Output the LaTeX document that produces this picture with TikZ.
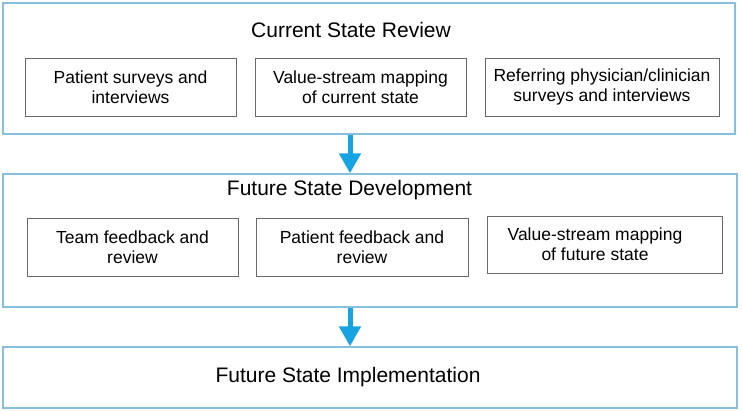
\documentclass[tikz,border=0pt]{standalone}
\usepackage{fontspec}
\setmainfont{Liberation Sans}
\usetikzlibrary{arrows.meta}
\definecolor{framec}{RGB}{135,192,222}
\definecolor{arrowc}{RGB}{22,163,226}
\definecolor{boxc}{RGB}{105,105,105}
\begin{document}
\begin{tikzpicture}[x=1pt,y=-1pt,
  stage/.style={draw=framec,line width=1.4pt,minimum width=#1,inner sep=0pt},
  title/.style={font=\fontsize{21}{24}\selectfont,inner sep=0pt},
  item/.style={draw=boxc,line width=0.9pt,minimum height=58pt,minimum width=#1,inner sep=0pt,align=center,font=\fontsize{17.5}{20}\selectfont},
  flow/.style={draw=arrowc,line width=5pt,-{Triangle[width=21pt,length=20pt]},shorten >=0pt}]
\useasboundingbox (0,0) rectangle (742,411);
% stage boxes
\node[stage=732pt,minimum height=131pt] (crs) at (369,68.5) {};
\node[stage=734pt,minimum height=133pt] (fsd) at (370,240.5) {};
\node[stage=734pt,minimum height=61pt] (fsi) at (370,377.5) {};
% titles
\node[title] (t1) at (351,30) {Current State Review};
\node[title] (t2) at (349.5,190) {Future State Development};
\node[title] (t3) at (348,377) {Future State Implementation};
% row 1
\node[item=211pt] (a) at (130.5,87) {Patient surveys and\\interviews};
\node[item=211pt] (b) at (360.5,87) {Value-stream mapping\\of current state};
\node[item=234pt] (c) at (602,87) {Referring physician/clinician\\surveys and interviews};
% row 2
\node[item=211pt] (d) at (132.5,247) {Team feedback and\\review};
\node[item=212pt] (e) at (362,247) {Patient feedback and\\review};
\node[item=235pt,minimum height=57pt,label={[xshift=-9.5pt,align=center,font=\fontsize{17.5}{20}\selectfont,inner sep=0pt]center:Value-stream mapping\\of future state}] (f) at (604.5,244.5) {};
% arrows
\coordinate (ax) at (350,0);
\draw[flow] (crs.south -| ax) -- (fsd.north -| ax);
\draw[flow] (fsd.south -| ax) -- (fsi.north -| ax);
\end{tikzpicture}
\end{document}
